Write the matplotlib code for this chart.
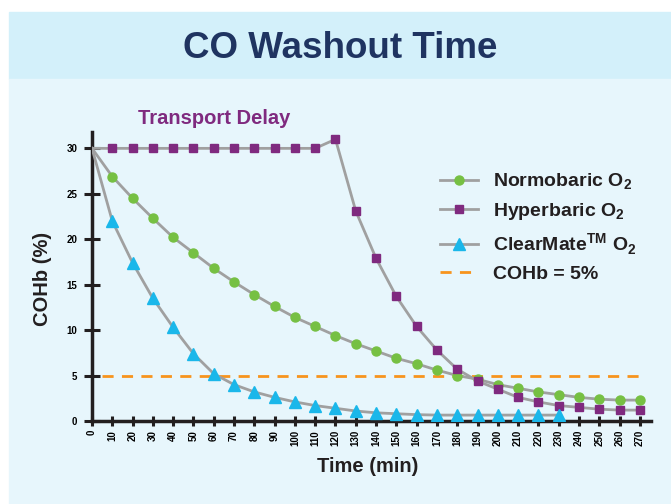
import matplotlib
matplotlib.use("Agg")
import matplotlib.pyplot as plt
from matplotlib.patches import Rectangle

plt.rcParams['font.family'] = ['Liberation Sans', 'DejaVu Sans']
plt.rcParams['mathtext.fontset'] = 'custom'
plt.rcParams['mathtext.rm'] = 'Liberation Sans'
plt.rcParams['mathtext.bf'] = 'Liberation Sans:bold'

# minutes after start
t_norm = [0, 10, 20, 30, 40, 50, 60, 70, 80, 90, 100, 110, 120, 130, 140, 150, 160,
          170, 180, 190, 200, 210, 220, 230, 240, 250, 260, 270]
normobaric = [30, 26.9, 24.5, 22.3, 20.2, 18.5, 16.8, 15.3, 13.9, 12.6, 11.4, 10.4, 9.4, 8.5,
              7.7, 6.9, 6.3, 5.6, 5.0, 4.6, 4.0, 3.6, 3.2, 2.9, 2.6, 2.4, 2.3, 2.3]
t_hyper = t_norm
hyperbaric = [30, 30, 30, 30, 30, 30, 30, 30, 30, 30, 30, 30, 31.0, 23.1, 17.9, 13.7, 10.4,
              7.8, 5.7, 4.4, 3.5, 2.6, 2.1, 1.7, 1.5, 1.3, 1.2, 1.2]
t_clear = t_norm[:24]
clearmate = [30, 22.0, 17.4, 13.5, 10.3, 7.4, 5.2, 4.0, 3.2, 2.6, 2.1, 1.7, 1.4, 1.1, 0.9,
             0.8, 0.7, 0.65, 0.65, 0.65, 0.65, 0.65, 0.65, 0.65]
threshold = 5
thr_x = [5, 270]
xticks = list(range(0, 271, 10))
yticks = [0, 5, 10, 15, 20, 25, 30]

fig = plt.figure(figsize=(6.71, 5.04), dpi=100)
W, H = 671, 504
fig.patches.append(Rectangle((9 / W, 1 - 79 / H), 1, 67 / H, transform=fig.transFigure,
                             color='#d3f0fa', zorder=-2))
fig.patches.append(Rectangle((9 / W, 0), 1, 1 - 79 / H, transform=fig.transFigure,
                             color='#e7f6fc', zorder=-2))
fig.text(340 / W, 1 - 48 / H, 'CO Washout Time', ha='center', va='center',
         fontsize=26.5, fontweight='bold', color='#1f3461')

ax = fig.add_axes([92 / W, 83 / H, 559 / W, 289 / H])
ax.patch.set_visible(False)

gray = '#a0a0a0'
skip0 = slice(1, None)
ax.plot(t_norm, normobaric, '-o', color=gray, lw=2, mfc='#76c043', mec='#76c043', ms=6.5,
        markevery=skip0, label=r'Normobaric O$_\mathbf{2}$', zorder=3)
ax.plot(t_hyper, hyperbaric, '-s', color=gray, lw=2, mfc='#7f2a7f', mec='#7f2a7f', ms=6,
        markevery=skip0, label=r'Hyperbaric O$_\mathbf{2}$', zorder=3)
ax.plot(t_clear, clearmate, '-^', color=gray, lw=2, mfc='#1ab7ea', mec='#1ab7ea', ms=8,
        markevery=skip0, label=r'ClearMate$^\mathbf{TM}$ O$_\mathbf{2}$', zorder=3)
ax.plot(thr_x, [threshold, threshold], '--', color='#f7941d', lw=2, dashes=(4, 3),
        label='COHb = 5%', zorder=2)

ax.set_xlim(0, 275.5)
ax.set_ylim(0, 31.8)
ax.set_xticks(xticks)
ax.set_yticks(yticks)
ax.set_xticklabels([str(v) for v in xticks], rotation=90, fontsize=7, fontweight='bold')
ax.set_yticklabels([str(v) for v in yticks], fontsize=7, fontweight='bold')
ax.tick_params(axis='x', direction='inout', length=7, width=2.2, color='#231f20', pad=3)
ax.tick_params(axis='y', direction='inout', length=11, width=2.2, color='#231f20', pad=5)
for s in ['top', 'right']:
    ax.spines[s].set_visible(False)
for s in ['left', 'bottom']:
    ax.spines[s].set_linewidth(2.5)
    ax.spines[s].set_color('#231f20')

fig.text(368 / W, 1 - 467 / H, 'Time (min)', ha='center', va='center',
         fontsize=14.5, fontweight='bold', color='#231f20')
fig.text(42 / W, 1 - 279 / H, 'COHb (%)', ha='center', va='center', rotation=90,
         fontsize=14.5, fontweight='bold', color='#231f20')

fig.text(214 / W, 1 - 119 / H, 'Transport Delay', ha='center', va='center',
         fontsize=14.5, fontweight='bold', color='#7f2a7f')

leg = ax.legend(loc='upper left', bbox_to_anchor=(440 / W, 1 - 172 / H),
                bbox_transform=fig.transFigure, frameon=False, handlelength=1.95,
                borderpad=0, borderaxespad=0, prop={'weight': 'bold', 'size': 14},
                labelspacing=0.45, handletextpad=0.8)
for txt in leg.get_texts():
    txt.set_color('#231f20')

fig.savefig('out.png', dpi=100)
